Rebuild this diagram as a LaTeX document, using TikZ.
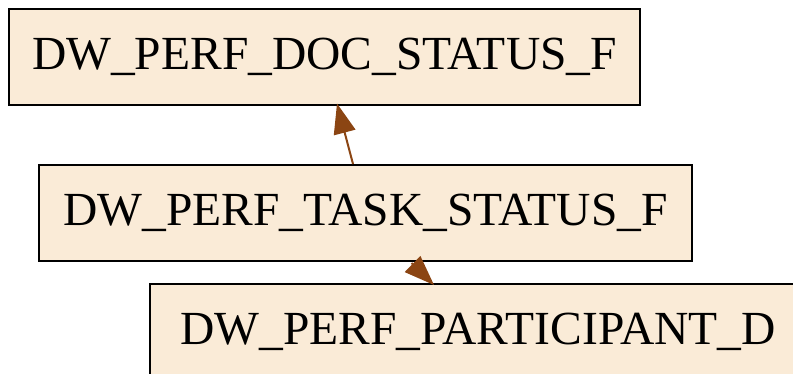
\documentclass[tikz,border=0pt]{standalone}
\usepackage{fontspec}
\setmainfont{Liberation Serif}
\usepackage{xcolor}
\usetikzlibrary{arrows.meta}
\definecolor{tblfill}{HTML}{FAEBD7}
\definecolor{fkbrown}{HTML}{8B4513}

\begin{document}
\begin{tikzpicture}[x=1pt,y=1pt,
    tbl/.style={draw=black,line width=2pt,fill=tblfill,
                minimum height=96pt,inner sep=0pt,font=\fontsize{47.5}{50}\selectfont},
    fk/.style={draw=fkbrown,line width=2pt,
               -{Triangle[length=30pt,width=22pt,fill=fkbrown]}}]
        \useasboundingbox (0,0) rectangle (793,-373);
        \clip (0,0) rectangle (793,-373);
        \node[tbl,minimum width=631pt] (doc) at (324.5,-56.5) {DW\_PERF\_DOC\_STATUS\_F};
        \node[tbl,minimum width=653pt] (task) at (365.5,-213) {DW\_PERF\_TASK\_STATUS\_F};
        \node[tbl,minimum width=656pt,anchor=north west] (part) at (149,-283) {DW\_PERF\_PARTICIPANT\_D};
        % foreign keys
        \draw[fk] ([xshift=-12.5pt]task.north) -- ([xshift=12.5pt,yshift=2pt]doc.south);
        \draw[fk] ([xshift=46pt,yshift=-1pt]task.south) -- ([xshift=-44pt,yshift=-2pt]part.north);
      \end{tikzpicture}
\end{document}
